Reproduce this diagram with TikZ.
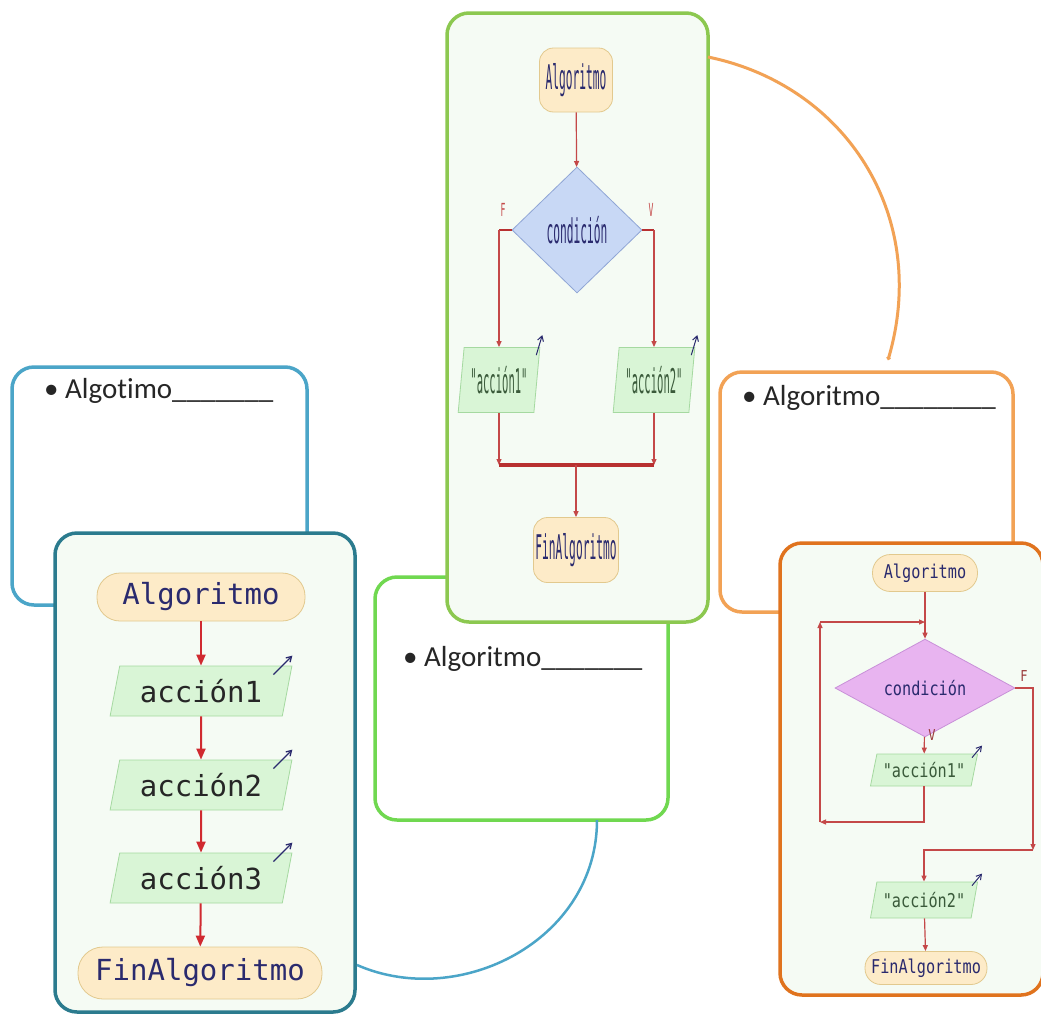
\documentclass[tikz,border=0pt]{standalone}
\usepackage{fontspec}
\usepackage{graphicx}
\setmainfont[Ligatures={NoCommon}]{Carlito}
\newfontfamily\monof{DejaVu Sans Mono}
\usetikzlibrary{shapes.geometric,shapes.misc,arrows.meta,calc}
\definecolor{lblue}{HTML}{4BA5C8}
\definecolor{dteal}{HTML}{2B7B8E}
\definecolor{ygreen}{HTML}{8CC850}
\definecolor{bgreen}{HTML}{70D850}
\definecolor{lorange}{HTML}{F2A255}
\definecolor{dorange}{HTML}{E0731E}
\definecolor{panelfill}{HTML}{F5FBF4}
\definecolor{termfill}{HTML}{FDEBC8}
\definecolor{termdraw}{HTML}{E2C98E}
\definecolor{iofill}{HTML}{D9F5D6}
\definecolor{iodraw}{HTML}{A5D9A0}
\definecolor{navy}{HTML}{2A2A6E}
\definecolor{flowred}{HTML}{D02A30}
\definecolor{thinred}{HTML}{C44848}
\definecolor{thickred}{HTML}{B83030}
\definecolor{dmblue}{HTML}{C8D8F5}
\definecolor{dmbluedraw}{HTML}{8FA5D5}
\definecolor{dmviol}{HTML}{E8B4F0}
\definecolor{dmvioldraw}{HTML}{C890D8}
\definecolor{iotext}{HTML}{3A5A3A}
\definecolor{lbltxt}{HTML}{9A3A3A}
\newcommand\sqz[2]{\scalebox{#1}[1]{#2}}
\newcommand\fcL{\monof\fontsize{29}{31}\selectfont}
\newcommand\fcG{\monof\fontsize{34}{36}\selectfont}
\newcommand\fcO{\monof\fontsize{19}{21}\selectfont}
\begin{document}
\begin{tikzpicture}[x=1pt,y=-1pt,
  panel/.style={draw, line width=3.5pt, rounded corners=22pt, inner sep=0pt},
  term/.style={draw=termdraw, fill=termfill, line width=0.8pt, inner sep=0pt, text=navy},
  io/.style={trapezium, trapezium stretches=true, draw=iodraw, fill=iofill, line width=0.8pt, inner sep=0pt},
  dec/.style={diamond, inner sep=0pt, line width=0.8pt, text=navy},
  lflow/.style={draw=flowred, line width=2pt, -{Triangle[length=11pt,width=9pt]}},
  sflow/.style={draw=thinred, line width=1.2pt, -{Triangle[length=6pt,width=5pt]}},
  sline/.style={draw=thinred, line width=1.2pt},
  jline/.style={draw=thickred, line width=3.5pt},
  outarr/.style={draw=navy, line width=1.3pt, -{Straight Barb[length=5pt,width=6pt]}},
  bul/.style={anchor=base west, inner sep=0pt, font=\fontsize{29}{31}\selectfont, text=black!85},
  lbl/.style={inner sep=0pt}
]
\useasboundingbox[fill=white] (0,0) rectangle (1041,1015);

% ---------- panels ----------
\node[panel, draw=lblue, fill=white, minimum width=295, minimum height=238] (b1) at (159.5,486) {};
\node[panel, draw=dteal, fill=panelfill, minimum width=300, minimum height=479] (b2) at (205,772.5) {};
\node[panel, draw=bgreen, fill=white, minimum width=293, minimum height=243] (b3) at (521.5,698.5) {};
\node[panel, draw=ygreen, fill=panelfill, minimum width=261, minimum height=609] (b4) at (577.5,317.5) {};
\node[panel, draw=lorange, fill=white, minimum width=293, minimum height=240] (b5) at (866.5,492) {};
\node[panel, draw=dorange, fill=panelfill, minimum width=263, minimum height=452] (b6) at (911.5,769) {};

% ---------- arcs between panels ----------
\coordinate (oa0) at (708,57);
\coordinate (oa9) at (888,360);
\draw[draw=lorange, line width=3pt, -{Circle[length=4pt]}] (oa0) .. controls (845,85) and (930,215) .. (oa9);
\coordinate (ba0) at (597,820);
\coordinate (ba9) at (357,965);
\draw[draw=lblue, line width=2.5pt] (ba0) .. controls (597,940) and (460,1010) .. (ba9);

% ---------- bullet texts ----------
\node[bul] (t1) at (44,398) {• Algotimo\_\_\_\_\_\_\_};
\node[bul] (t3) at (403,666) {• Algoritmo\_\_\_\_\_\_\_};
\node[bul] (t5) at (742,405) {• Algoritmo\_\_\_\_\_\_\_\_};

% ---------- left flowchart ----------
\node[term, rounded corners=23pt, minimum width=208, minimum height=48] (lst) at (201,597) {\fcL Algoritmo};
\node[io, trapezium left angle=73, trapezium right angle=107, minimum width=182, minimum height=50] (la1) at (201,691) {\fcL\color{black!85}acción1};
\node[io, trapezium left angle=73, trapezium right angle=107, minimum width=182, minimum height=50] (la2) at (201,785) {\fcL\color{black!85}acción2};
\node[io, trapezium left angle=73, trapezium right angle=107, minimum width=182, minimum height=50] (la3) at (201,878) {\fcL\color{black!85}acción3};
\node[term, rounded corners=25pt, minimum width=244, minimum height=52] (lfin) at (200,973) {\fcL FinAlgoritmo};
\draw[lflow] (lst) -- (la1);
\draw[lflow] (la1) -- (la2);
\draw[lflow] (la2) -- (la3);
\draw[lflow] (la3) -- (lfin);
\foreach \n in {la1,la2,la3}{
  \draw[outarr] ($(\n.top right corner)+(-19,9)$) -- ($(\n.top right corner)+(0,-10)$);
}

% ---------- top green flowchart ----------
\node[term, rounded corners=14pt, minimum width=73, minimum height=64] (gst) at (576,80) {\fcG\sqz{0.33}{Algoritmo}};
\node[dec, fill=dmblue, draw=dmbluedraw, minimum width=130, minimum height=126] (gd) at (577,230) {\fcG\sqz{0.33}{condición}};
\node[io, trapezium left angle=80, trapezium right angle=100, minimum width=82, minimum height=65] (ga1) at (499,380) {\fcG\color{iotext}\sqz{0.31}{"acción1"}};
\node[io, trapezium left angle=80, trapezium right angle=100, minimum width=82, minimum height=65] (ga2) at (654,380) {\fcG\color{iotext}\sqz{0.31}{"acción2"}};
\node[term, rounded corners=14pt, minimum width=85, minimum height=65] (gfin) at (576,550) {\fcG\sqz{0.33}{FinAlgoritmo}};
\coordinate (gj) at (576,465);
\node[lbl, text=thinred] (gF) at (503,210) {\monof\fontsize{18}{18}\selectfont\sqz{0.45}{F}};
\node[lbl, text=thinred] (gV) at (651,210) {\monof\fontsize{18}{18}\selectfont\sqz{0.45}{V}};
\draw[sflow] (gst) -- (gd);
\draw[jline, line width=2.5pt] (gd.west) -- (gd.west -| ga1.north);
\draw[jline, line width=2.5pt] (gd.east) -- (gd.east -| ga2.north);
\draw[sflow] (gd.west -| ga1.north) -- (ga1.north);
\draw[sflow] (gd.east -| ga2.north) -- (ga2.north);
\draw[sflow] (ga1.south) -- (ga1.south |- gj);
\draw[sflow] (ga2.south) -- (ga2.south |- gj);
\draw[jline] (ga1.south |- gj) -- (ga2.south |- gj);
\draw[sflow] (gj) -- (gfin);
\foreach \n in {ga1,ga2}{
  \draw[outarr, line width=1pt] ($(\n.top right corner)+(-4,8)$) -- ($(\n.top right corner)+(2,-12)$);
}

% ---------- orange flowchart ----------
\node[term, rounded corners=18pt, minimum width=105, minimum height=37] (ost) at (925,573) {\fcO\sqz{0.8}{Algoritmo}};
\node[dec, fill=dmviol, draw=dmvioldraw, minimum width=180, minimum height=73] (od) at (925,688) {\fcO\sqz{0.8}{condición}};
\node[io, trapezium left angle=70, trapezium right angle=110, minimum width=108, minimum height=32] (oa1) at (924,770) {\fcO\color{iotext}\sqz{0.8}{"acción1"}};
\node[io, trapezium left angle=70, trapezium right angle=110, minimum width=108, minimum height=36] (oa2) at (924,900) {\fcO\color{iotext}\sqz{0.8}{"acción2"}};
\node[term, rounded corners=16pt, minimum width=122, minimum height=33] (ofin) at (926,968) {\fcO\sqz{0.8}{FinAlgoritmo}};
\node[lbl, text=lbltxt] (oF) at (1024,676) {\monof\fontsize{15}{15}\selectfont\sqz{0.8}{F}};
\node[lbl, text=lbltxt] (oV) at (932,735) {\monof\fontsize{15}{15}\selectfont\sqz{0.8}{V}};
\coordinate (oM) at (925,622);
\coordinate (oL2) at (820,622);
\coordinate (oL1) at (820,822);
\coordinate (oR1) at (1033,688);
\coordinate (oR2) at (1033,850);
\draw[sflow] (ost) -- (od);
\draw[sflow] (od) -- (oa1);
\draw[sflow] (oa1.south) |- (oL1);
\draw[sflow] (oL1) -- (oL2);
\draw[sflow] (oL2) -- (oM);
\draw[sflow] (od.east) -- (oR1) -- (oR2);
\draw[sflow] (oR2) -| (oa2.north);
\draw[sflow] (oa2) -- (ofin);
\foreach \n in {oa1,oa2}{
  \draw[outarr, line width=1pt] ($(\n.top right corner)+(-6,4)$) -- ($(\n.top right corner)+(4,-8)$);
}
\end{tikzpicture}
\end{document}
